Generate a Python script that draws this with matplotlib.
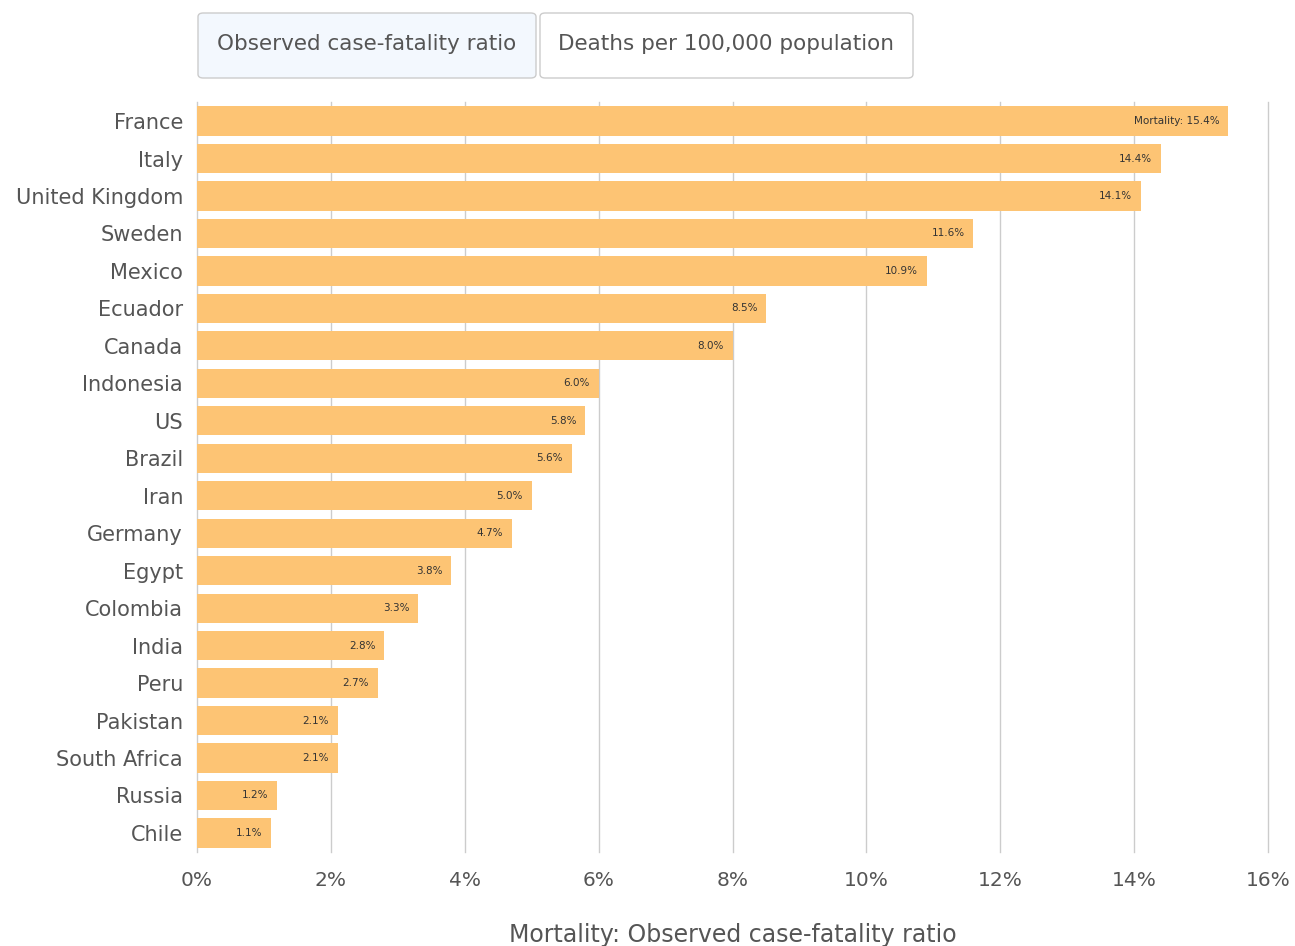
import matplotlib.pyplot as plt
from matplotlib.patches import FancyBboxPatch

# Datos: mortalidad (tasa de letalidad observada, %)
countries = ["France", "Italy", "United Kingdom", "Sweden", "Mexico", "Ecuador",
             "Canada", "Indonesia", "US", "Brazil", "Iran", "Germany", "Egypt",
             "Colombia", "India", "Peru", "Pakistan", "South Africa", "Russia", "Chile"]
mortality = [15.4, 14.4, 14.1, 11.6, 10.9, 8.5, 8.0, 6.0, 5.8, 5.6, 5.0, 4.7, 3.8,
             3.3, 2.8, 2.7, 2.1, 2.1, 1.2, 1.1]
xticks = [0, 2, 4, 6, 8, 10, 12, 14, 16]
buttons = ["Observed case-fatality ratio", "Deaths per 100,000 population"]

W, H = 1295, 946
fig = plt.figure(figsize=(W / 100, H / 100), dpi=100)
ax = fig.add_axes([197 / W, 1 - 851.7 / H, (1268 - 197) / W, 749.4 / H])

bar_color = "#fdc474"
text_gray = "#555555"

ypos = range(len(countries))
ax.barh(ypos, mortality, height=0.78, color=bar_color, zorder=2)

for i, v in enumerate(mortality):
    label = f"{v:.1f}%"
    if i == 0:
        label = "Mortality: " + label
    ax.text(v - 0.13, i, label, ha="right", va="center", fontsize=7.5,
            color="#333333", zorder=3)

ax.set_ylim(len(countries) - 0.5, -0.5)
ax.set_xlim(0, 16)
ax.set_yticks(list(ypos))
ax.set_yticklabels(countries, fontsize=15, color=text_gray)
ax.set_xticks(xticks)
ax.set_xticklabels([f"{t}%" for t in xticks], fontsize=14.5, color=text_gray)
ax.tick_params(axis="both", length=0)
ax.tick_params(axis="y", pad=10)
ax.tick_params(axis="x", pad=14)
ax.grid(axis="x", color="#cccccc", linewidth=1, zorder=0)
ax.set_axisbelow(True)
for gl in ax.get_xgridlines():
    gl.set_clip_on(False)
for s in ax.spines.values():
    s.set_visible(False)

ax.set_xlabel("Mortality: Observed case-fatality ratio", fontsize=17,
              color=text_gray, labelpad=24)

# Botones de la parte superior
boxes = [(198, 536, "#f3f8fe"), (540, 913, "#ffffff")]
for (x0, x1, fc), txt in zip(boxes, buttons):
    p = FancyBboxPatch((x0 / W, 1 - 78 / H), (x1 - x0) / W, 65 / H,
                       boxstyle="round,pad=0,rounding_size=0.004",
                       transform=fig.transFigure, facecolor=fc,
                       edgecolor="#cccccc", linewidth=1)
    fig.add_artist(p)
    fig.text((x0 + x1) / 2 / W, 1 - 44 / H, txt, ha="center", va="center",
             fontsize=15.5, color=text_gray)

fig.savefig("out.png", dpi=100)
